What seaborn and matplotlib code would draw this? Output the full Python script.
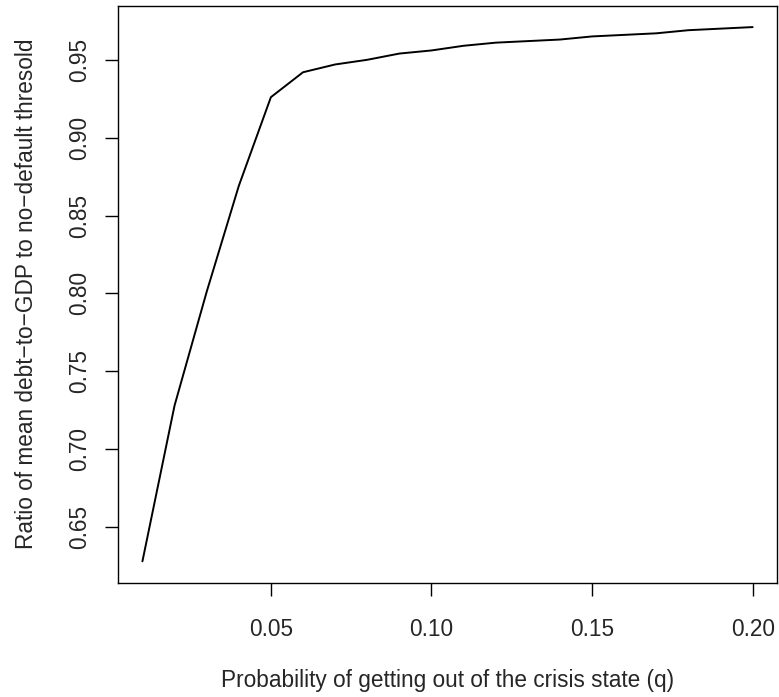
import pandas as pd
import seaborn as sns
import matplotlib
matplotlib.use("Agg")
import matplotlib.pyplot as plt

# data
q_values = [0.01, 0.02, 0.03, 0.04, 0.05, 0.06, 0.07, 0.08, 0.09, 0.10,
            0.11, 0.12, 0.13, 0.14, 0.15, 0.16, 0.17, 0.18, 0.19, 0.20]
ratio_values = [0.628, 0.728, 0.801, 0.869, 0.926, 0.942, 0.947, 0.950, 0.954, 0.956,
                0.959, 0.961, 0.962, 0.963, 0.965, 0.966, 0.967, 0.969, 0.970, 0.971]
x_ticks = [0.05, 0.10, 0.15, 0.20]
y_ticks = [0.65, 0.70, 0.75, 0.80, 0.85, 0.90, 0.95]

df = pd.DataFrame({"q": q_values, "ratio": ratio_values})

sns.set_style("ticks")
plt.rcParams['font.family'] = ['Liberation Sans', 'DejaVu Sans']

fig = plt.figure(figsize=(7.79, 6.97), dpi=100)
ax = fig.add_axes([0.1515, 0.164, 0.846, 0.8278])

sns.lineplot(data=df, x="q", y="ratio", color="black", linewidth=1.4, ax=ax)

# R-style 4% padding around the data range
xr = max(q_values) - min(q_values)
yr = max(ratio_values) - min(ratio_values)
ax.set_xlim(min(q_values) - 0.04 * xr, max(q_values) + 0.04 * xr)
ax.set_ylim(min(ratio_values) - 0.04 * yr, max(ratio_values) + 0.04 * yr)

ax.set_xticks(x_ticks)
ax.set_xticklabels([f"{t:.2f}" for t in x_ticks])
ax.set_yticks(y_ticks)
ax.set_yticklabels([f"{t:.2f}" for t in y_ticks], rotation=90, va="center")

ax.tick_params(axis="both", length=9.6, width=1.0, color="black", labelsize=16.3)
ax.tick_params(axis="x", pad=16)
ax.tick_params(axis="y", pad=9.5)

for s in ax.spines.values():
    s.set_visible(True)
    s.set_color("black")
    s.set_linewidth(1.0)

ax.set_xlabel("Probability of getting out of the crisis state (q)", fontsize=16.3)
ax.set_ylabel("Ratio of mean debt\u2212to\u2212GDP to no\u2212default thresold", fontsize=16.3)
ax.xaxis.set_label_coords(0.5, -0.1496)
ax.yaxis.set_label_coords(-0.122, 0.5)

fig.savefig("out.png", dpi=100)
